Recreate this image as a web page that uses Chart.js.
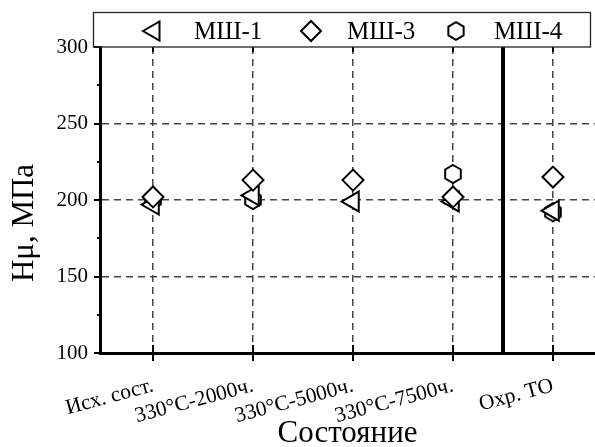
<!DOCTYPE html>
<html>
<head>
<meta charset="utf-8">
<script src="https://cdn.jsdelivr.net/npm/chart.js@4/dist/chart.umd.min.js"></script>
<style>
  html, body { margin: 0; padding: 0; background: #fff; }
  #wrap { width: 595px; height: 447px; }
</style>
</head>
<body>
<div id="wrap"><canvas id="c" width="595" height="447"></canvas></div>
<script>
// Microhardness by material state
const states = ['Исх. сост.', '330°C-2000ч.', '330°C-5000ч.', '330°C-7500ч.', 'Охр. ТО'];
const positions = [1, 2, 3, 4, 5];
const msh1 = [197, 203, 199, 199, 193];
const msh3 = [202, 213, 213, 202, 215];
const msh4 = [200, 200, null, 217, 192];
const yTicks = [100, 150, 200, 250, 300];
const yMinorTicks = [125, 175, 225, 275];
const yTitle = 'Hμ, МПа';

const SERIF = '"Liberation Serif", "Times New Roman", serif';

// Hexagon marker (pointy top), white fill with black outline
function makeHex(r) {
  const s = Math.ceil(2 * r + 6);
  const cv = document.createElement('canvas');
  cv.width = s; cv.height = s;
  const g = cv.getContext('2d');
  const c = s / 2;
  g.beginPath();
  for (let i = 0; i < 6; i++) {
    const a = -Math.PI / 2 + i * Math.PI / 3;
    const px = c + r * Math.cos(a), py = c + r * Math.sin(a);
    if (i === 0) g.moveTo(px, py); else g.lineTo(px, py);
  }
  g.closePath();
  g.fillStyle = '#fff';
  g.fill();
  g.lineWidth = 2;
  g.strokeStyle = '#000';
  g.stroke();
  return cv;
}
const hexData = makeHex(9);
const hexLegend = makeHex(8.8);

function pts(arr) {
  return arr.map((v, i) => ({ x: positions[i], y: v }));
}

// Legend box, separator line, axis tick marks and the y-axis title
const decor = {
  id: 'decor',
  afterDraw(chart) {
    const { ctx, chartArea: a, scales: { x, y } } = chart;
    ctx.save();
    ctx.strokeStyle = '#000';
    ctx.lineCap = 'butt';

    // bold separator before heat-treated state
    const xs = x.getPixelForValue(4.5);
    ctx.lineWidth = 4;
    ctx.beginPath(); ctx.moveTo(xs, a.top); ctx.lineTo(xs, a.bottom); ctx.stroke();

    // x ticks: bottom (crossing axis) and top (inward)
    ctx.lineWidth = 2;
    positions.forEach(p => {
      const px = Math.round(x.getPixelForValue(p));
      ctx.beginPath(); ctx.moveTo(px, a.bottom - 8); ctx.lineTo(px, a.bottom + 8); ctx.stroke();
      ctx.beginPath(); ctx.moveTo(px, a.top); ctx.lineTo(px, a.top + 5); ctx.stroke();
    });
    // y ticks: major and minor, outward
    yTicks.forEach(v => {
      const py = Math.round(y.getPixelForValue(v));
      ctx.beginPath(); ctx.moveTo(a.left - 6, py); ctx.lineTo(a.left, py); ctx.stroke();
    });
    yMinorTicks.forEach(v => {
      const py = Math.round(y.getPixelForValue(v));
      ctx.beginPath(); ctx.moveTo(a.left - 3, py); ctx.lineTo(a.left + 1, py); ctx.stroke();
    });

    // y-axis title
    ctx.save();
    ctx.translate(25, 223);
    ctx.rotate(-Math.PI / 2);
    ctx.fillStyle = '#000';
    ctx.font = '31px ' + SERIF;
    ctx.textAlign = 'center';
    ctx.textBaseline = 'middle';
    ctx.fillText(yTitle, 0, 0);
    ctx.restore();

    // legend frame
    ctx.lineWidth = 1.3;
    ctx.strokeStyle = '#222';
    ctx.strokeRect(93.5, 12.5, 497, a.top - 12.5);

    // legend entries
    const items = [
      { ds: chart.data.datasets[0], mx: 154, tx: 194, opt: { pointStyle: 'triangle', rotation: -90, radius: 11, borderWidth: 2 } },
      { ds: chart.data.datasets[1], mx: 311, tx: 347, opt: { pointStyle: 'rectRot', rotation: 0, radius: 10, borderWidth: 2 } },
      { ds: chart.data.datasets[2], mx: 456, tx: 494, opt: { pointStyle: hexLegend, rotation: 0, radius: 9, borderWidth: 2 } }
    ];
    const cy = 31;
    items.forEach(it => {
      ctx.fillStyle = '#fff';
      ctx.strokeStyle = '#000';
      ctx.lineWidth = 2;
      Chart.helpers.drawPoint(ctx, it.opt, it.mx, cy);
      ctx.fillStyle = '#000';
      ctx.font = '25px ' + SERIF;
      ctx.textBaseline = 'middle';
      ctx.textAlign = 'left';
      ctx.fillText(it.ds.label, it.tx, cy + 1);
    });
    ctx.restore();
  }
};

const common = {
  showLine: false,
  backgroundColor: '#fff',
  borderColor: '#000',
  borderWidth: 2,
  pointBorderWidth: 2,
  pointHoverRadius: 10
};

new Chart(document.getElementById('c'), {
  type: 'scatter',
  data: {
    datasets: [
      Object.assign({}, common, { label: 'МШ-1', data: pts(msh1), pointStyle: 'triangle', rotation: -90, pointRadius: 11.5, order: 2 }),
      Object.assign({}, common, { label: 'МШ-3', data: pts(msh3), pointStyle: 'rectRot', pointRadius: 10.5, order: 1 }),
      Object.assign({}, common, { label: 'МШ-4', data: pts(msh4), pointStyle: hexData, pointRadius: 9, order: 3 })
    ]
  },
  options: {
    responsive: false,
    devicePixelRatio: 1,
    animation: false,
    layout: { autoPadding: false, padding: { top: 47, right: 0, left: 0, bottom: 0 } },
    plugins: {
      legend: { display: false },
      tooltip: { enabled: false }
    },
    scales: {
      x: {
        type: 'linear',
        min: 0.47,
        max: 5.42,
        afterBuildTicks(scale) {
          scale.ticks = positions.map(v => ({ value: v }));
        },
        afterFit(scale) {
          scale.height = 94;
          scale.paddingLeft = 0;
          scale.paddingRight = 0;
        },
        grid: {
          color: '#444',
          lineWidth: 1.5,
          drawTicks: false
        },
        border: { display: true, color: '#000', width: 3, dash: [7, 5] },
        ticks: {
          autoSkip: false,
          minRotation: 15,
          maxRotation: 15,
          padding: 20,
          color: '#000',
          font: { family: SERIF, size: 21.5 },
          callback: v => states[positions.indexOf(v)] || ''
        },
        title: {
          display: true,
          text: 'Состояние',
          color: '#000',
          font: { family: SERIF, size: 31, lineHeight: 1 },
          padding: { top: 0, bottom: -2 }
        }
      },
      y: {
        min: 100,
        max: 300,
        afterBuildTicks(scale) {
          scale.ticks = yTicks.map(v => ({ value: v }));
        },
        afterFit(scale) {
          scale.width = 100;
          scale.paddingTop = 0;
          scale.paddingBottom = 0;
        },
        grid: {
          color: ctx => (ctx.tick && (ctx.tick.value === 100 || ctx.tick.value === 300)) ? 'rgba(0,0,0,0)' : '#444',
          lineWidth: 1.5,
          drawTicks: false
        },
        border: { display: true, color: '#000', width: 3, dash: [7, 5] },
        ticks: {
          padding: 12,
          color: '#000',
          font: { family: SERIF, size: 21 }
        }
      }
    }
  },
  plugins: [decor]
});
</script>
</body>
</html>
